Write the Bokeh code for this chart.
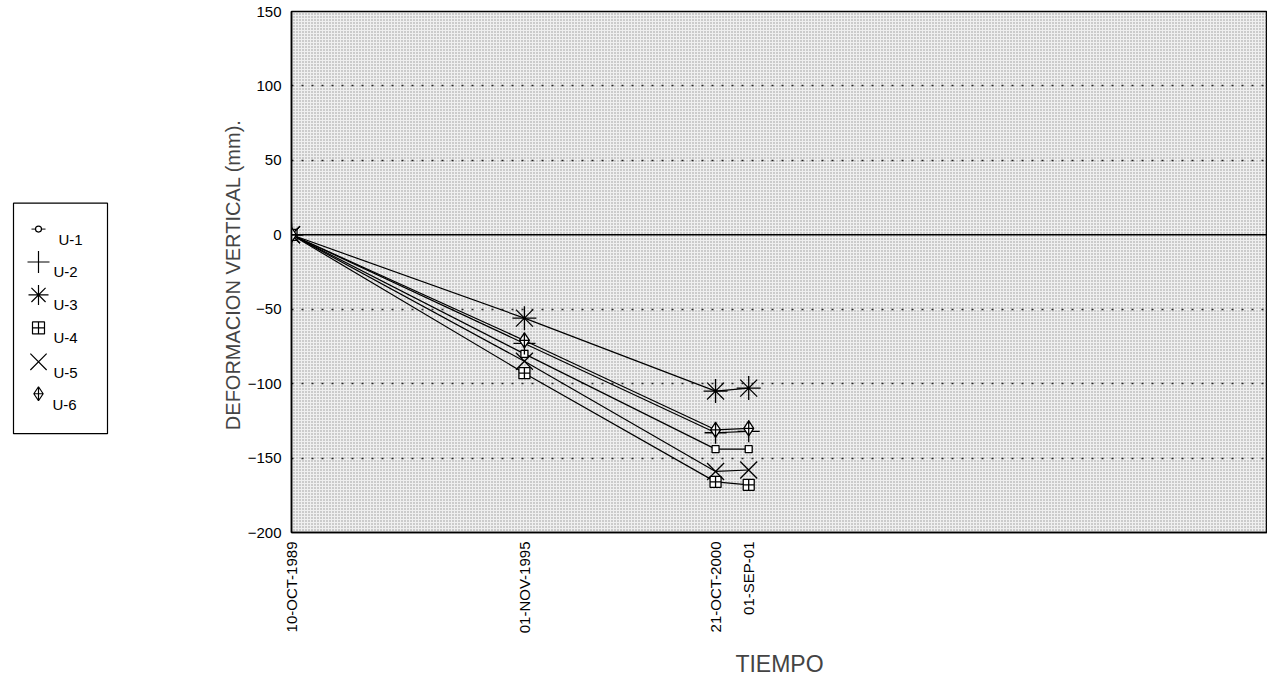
import math
import pandas as pd
from bokeh.plotting import figure
from bokeh.layouts import row
from bokeh.models import FixedTicker, Span, BoxAnnotation, Range1d
from bokeh.core.properties import value
from bokeh.embed import file_html
from bokeh.resources import INLINE

# ---- data ----
dates = ["1989-10-10", "1995-11-01", "2000-10-21", "2001-09-01"]
date_labels = ["10-OCT-1989", "01-NOV-1995", "21-OCT-2000", "01-SEP-01"]
x_end_date = "2015-03-01"

series_names = ["U-1", "U-2", "U-3", "U-4", "U-5", "U-6"]
u1 = [0, -80, -144, -144]
u2 = [0, -73, -133, -132]
u3 = [0, -56, -105, -103]
u4 = [0, -93, -166, -168]
u5 = [0, -85, -159, -158]
u6 = [0, -71, -131, -130]
y_ticks = [-200, -150, -100, -50, 0, 50, 100, 150]
y_grid_ticks = [-150, -100, -50, 50, 100]

# ---- derived x positions (days since first survey) ----
d0 = pd.Timestamp(dates[0])
xs = [(pd.Timestamp(d) - d0).days for d in dates]
x_max = (pd.Timestamp(x_end_date) - d0).days

FONT = "Liberation Sans"
LEG_W = 130
TOTAL_W = 1267
TOTAL_H = 680
B_TOP = 11
B_BOTTOM = 147

p = figure(width=TOTAL_W - LEG_W, height=TOTAL_H, x_range=(0, x_max), y_range=(-200, 150),
           output_backend="svg", toolbar_location=None, title=None,
           min_border_left=291 - LEG_W, min_border_right=0, min_border_top=B_TOP,
           min_border_bottom=B_BOTTOM)

p.background_fill_color = "#efefef"
p.border_fill_color = "white"
p.outline_line_color = "black"
p.outline_line_width = 1.5

# stipple texture
p.add_layout(BoxAnnotation(fill_alpha=0, line_alpha=0,
                           hatch_pattern="dot", hatch_color="#3a3a3a",
                           hatch_scale=3, hatch_weight=1.2, hatch_alpha=0.5,
                           level="underlay"))

# grid
p.xgrid.visible = False
p.ygrid.ticker = FixedTicker(ticks=y_grid_ticks)
p.ygrid.grid_line_color = "black"
p.ygrid.grid_line_dash = "2 8"
p.ygrid.grid_line_width = 1.5
p.ygrid.grid_line_alpha = 0.85

p.add_layout(Span(location=0, dimension="width", line_color="black", line_width=1.5))

# axes
p.yaxis.ticker = FixedTicker(ticks=y_ticks)
p.yaxis.axis_label = "DEFORMACION VERTICAL  (mm)."
p.yaxis.axis_label_text_font = FONT
p.yaxis.axis_label_text_font_style = "normal"
p.yaxis.axis_label_text_font_size = "20px"
p.yaxis.axis_label_standoff = 1
p.yaxis.major_label_text_font = FONT
p.yaxis.major_label_text_font_size = "15px"
p.yaxis.major_label_text_color = "black"
p.yaxis.major_label_standoff = 10
p.yaxis.major_tick_out = 0
p.yaxis.major_tick_in = 0
p.yaxis.minor_tick_out = 0
p.yaxis.minor_tick_in = 0
p.yaxis.axis_line_color = "black"
p.yaxis.axis_line_width = 1.5

p.xaxis.ticker = FixedTicker(ticks=xs)
p.xaxis.major_label_overrides = {x: lab for x, lab in zip(xs, date_labels)}
p.xaxis.major_label_orientation = math.pi / 2
p.xaxis.axis_label = "TIEMPO"
p.xaxis.axis_label_text_font = FONT
p.xaxis.axis_label_text_font_style = "normal"
p.xaxis.axis_label_text_font_size = "23px"
p.xaxis.axis_label_standoff = 15
p.xaxis.major_label_text_font = FONT
p.xaxis.major_label_text_font_size = "15px"
p.xaxis.major_label_text_color = "black"
p.xaxis.major_label_standoff = 9
p.xaxis.major_tick_out = 0
p.xaxis.major_tick_in = 0
p.xaxis.minor_tick_out = 0
p.xaxis.minor_tick_in = 0
p.xaxis.axis_line_color = "black"
p.xaxis.axis_line_width = 1.5

# series
series = [u1, u2, u3, u4, u5, u6]
markers = ["square", "cross", "asterisk", "square_cross", "x", "diamond_cross"]
sizes = [7, 22, 24, 11, 24, 15]
for name, ys, mk, sz in zip(series_names, series, markers, sizes):
    p.line(xs, ys, line_color="black", line_width=1.2)
    p.scatter(xs, ys, marker=mk, size=sz, line_color="black",
              fill_color="white", line_width=1.3)

# ---- key panel on the left (ranges in panel pixels: x from left, y from top) ----
pl = figure(width=LEG_W, height=TOTAL_H,
            x_range=Range1d(0, LEG_W), y_range=Range1d(TOTAL_H - B_BOTTOM, B_TOP),
            output_backend="svg", toolbar_location=None, title=None,
            min_border_left=0, min_border_right=0, min_border_top=B_TOP,
            min_border_bottom=B_BOTTOM, outline_line_color=None)
pl.axis.visible = False
pl.grid.visible = False
pl.background_fill_color = "white"
pl.border_fill_color = "white"

# key layout (panel pixels)
key_box = dict(left=13, right=107, top=203, bottom=434)
key_marker_x = 38
key_marker_y = [229, 262, 295, 328, 362, 394]
key_label_x = [58, 53, 53, 53, 53, 52]
key_label_y = [239, 271, 305, 338, 373, 405]
key_markers = ["circle", "cross", "asterisk", "square_cross", "x", "diamond_cross"]
key_sizes = [6, 22, 20, 12, 23, 14]

pl.quad(left=[key_box["left"]], right=[key_box["right"]],
        top=[key_box["top"]], bottom=[key_box["bottom"]],
        fill_color="white", line_color="black", line_width=1.2)
pl.segment(x0=[key_marker_x - 7], x1=[key_marker_x + 7],
           y0=[key_marker_y[0]], y1=[key_marker_y[0]], line_color="black", line_width=1)
for mk, sz, my in zip(key_markers, key_sizes, key_marker_y):
    pl.scatter([key_marker_x], [my], marker=mk, size=sz, line_color="black",
               fill_color="white", line_width=1.2)
pl.text(x=key_label_x, y=key_label_y, text=series_names,
        text_font=value(FONT), text_font_size="15px", text_color="black",
        text_align="left", text_baseline="middle")

layout = row(pl, p, spacing=0)
open("out.html", "w").write(file_html(layout, INLINE))
